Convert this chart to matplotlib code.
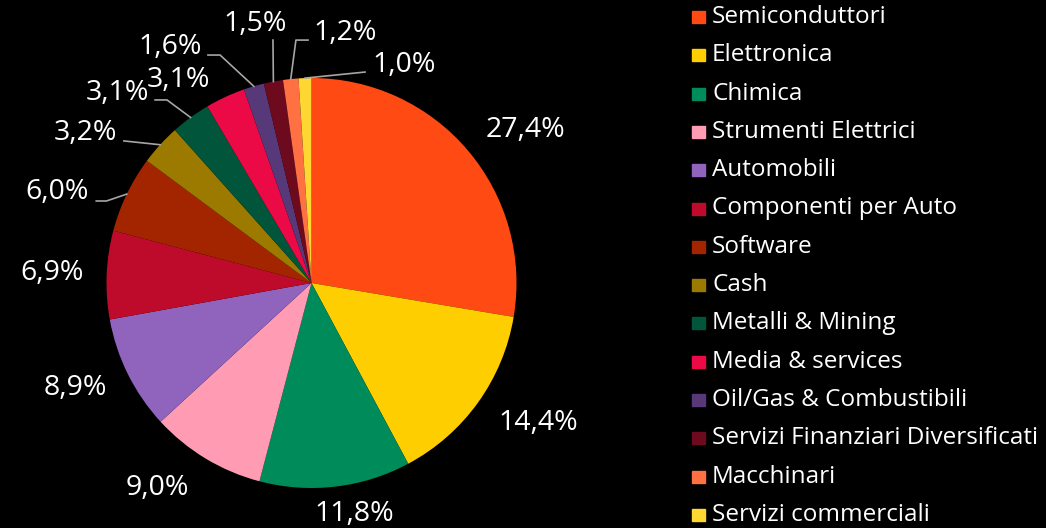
import matplotlib
matplotlib.use("Agg")
import matplotlib.pyplot as plt
from matplotlib.patches import Rectangle
import numpy as np

plt.rcParams['font.family'] = ['Open Sans', 'DejaVu Sans']

# data
categories = ["Semiconduttori", "Elettronica", "Chimica", "Strumenti Elettrici",
              "Automobili", "Componenti per Auto", "Software", "Cash",
              "Metalli & Mining", "Media & services", "Oil/Gas & Combustibili",
              "Servizi Finanziari Diversificati", "Macchinari", "Servizi commerciali"]
values = [27.4, 14.4, 11.8, 9.0, 8.9, 6.9, 6.0, 3.2, 3.1, 3.1, 1.6, 1.5, 1.2, 1.0]
colors = ["#FF4A14", "#FFCE00", "#008C5A", "#FF9BB3", "#9063BD", "#BE0A2B",
          "#A32500", "#9C7A00", "#00553A", "#EB0A46", "#573878", "#6E0A1E",
          "#FF7043", "#FFD733"]

# label layout (pie units, centre of text) and leader line bends
label_pos = [(1.046, 0.746), (1.105, -0.683), (0.207, -1.125), (-0.754, -1.0),
             (-1.154, -0.512), (-1.266, 0.049), (-1.241, 0.444), (-1.105, 0.732),
             (-0.949, 0.927), (-0.651, 0.990), (-0.690, 1.151), (-0.276, 1.263),
             (0.163, 1.220), (0.451, 1.063)]
leaders = {6: [(-1.0, 0.40), (-1.05, 0.40)],
           7: [(-0.915, 0.693)],
           8: [(-0.705, 0.893), (-0.763, 0.893)],
           10: [(-0.446, 1.112), (-0.505, 1.112)],
           11: [(-0.188, 1.185)],
           12: [(-0.076, 1.185), (-0.017, 1.185)],
           13: [(0.261, 1.029)]}

W, H = 1046, 528
fig = plt.figure(figsize=(W / 100, H / 100), dpi=100, facecolor="black")
cx, cy, r = 311.5, 283, 205
ax = fig.add_axes([(cx - r) / W, (H - cy - r) / H, 2 * r / W, 2 * r / H])
ax.set_facecolor("black")

wedges, _ = ax.pie(values, colors=colors, startangle=90, counterclock=False,
                   wedgeprops=dict(linewidth=0))
ax.set_xlim(-1, 1)
ax.set_ylim(-1, 1)

for i, w in enumerate(wedges):
    mid = np.deg2rad((w.theta1 + w.theta2) / 2)
    ex, ey = np.cos(mid), np.sin(mid)
    if i in leaders:
        pts = [(ex, ey)] + leaders[i]
        ax.plot([p[0] for p in pts], [p[1] for p in pts], color="#a6a6a6",
                lw=1.2, clip_on=False)
    tx, ty = label_pos[i]
    ax.text(tx, ty, f"{values[i]:.1f}%".replace(".", ","), color="white",
            fontsize=20.5, ha="center", va="center")

# legend
y0, step = 17, 38.3
for i, name in enumerate(categories):
    y = y0 + i * step
    fig.patches.append(Rectangle((692 / W, 1 - (y + 6) / H), 13 / W, 12 / H,
                                 transform=fig.transFigure, color=colors[i]))
    fig.text(712 / W, 1 - y / H, name, color="white", fontsize=17.5,
             ha="left", va="center")

fig.savefig("out.png", dpi=100, facecolor="black")
